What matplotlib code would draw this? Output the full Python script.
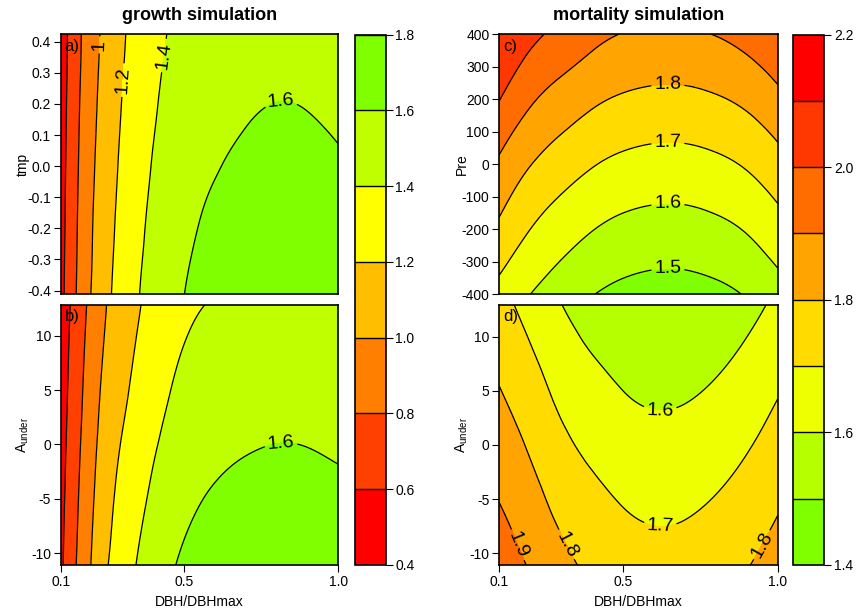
import numpy as np
import matplotlib
matplotlib.use("Agg")
import matplotlib.pyplot as plt
import matplotlib.tri as mtri
from matplotlib.ticker import FormatStrFormatter

plt.rcParams['font.family'] = ['Liberation Sans', 'DejaVu Sans']
plt.rcParams['axes.unicode_minus'] = False
plt.rcParams['mathtext.fontset'] = 'custom'
plt.rcParams['mathtext.rm'] = 'Liberation Sans'

# ---- growth simulation ----
growth_dbh = [0.1, 0.15, 0.2, 0.25, 0.3, 0.4, 0.5, 0.6, 0.7, 0.8, 0.9, 1.0]

growth_tmp = [-0.42, -0.2, 0.0, 0.2, 0.43]
growth_tmp_z = [
    [0.540, 0.800, 1.010, 1.160, 1.290, 1.475, 1.600, 1.670, 1.695, 1.710, 1.705, 1.685],
    [0.528, 0.782, 0.988, 1.134, 1.262, 1.440, 1.565, 1.628, 1.658, 1.672, 1.667, 1.648],
    [0.517, 0.766, 0.967, 1.110, 1.235, 1.410, 1.531, 1.593, 1.622, 1.636, 1.632, 1.613],
    [0.505, 0.749, 0.945, 1.086, 1.207, 1.380, 1.498, 1.558, 1.587, 1.601, 1.596, 1.577],
    [0.492, 0.730, 0.921, 1.058, 1.176, 1.345, 1.459, 1.518, 1.546, 1.560, 1.555, 1.537],
]

growth_aunder = [-11.2, -5.0, 0.0, 5.0, 13.0]
growth_aunder_z = [
    [0.560, 0.800, 1.010, 1.190, 1.310, 1.500, 1.630, 1.700, 1.735, 1.750, 1.745, 1.725],
    [0.538, 0.768, 0.970, 1.142, 1.256, 1.433, 1.553, 1.620, 1.653, 1.668, 1.663, 1.644],
    [0.520, 0.742, 0.937, 1.103, 1.212, 1.379, 1.491, 1.556, 1.588, 1.601, 1.597, 1.578],
    [0.501, 0.716, 0.904, 1.064, 1.167, 1.323, 1.445, 1.505, 1.536, 1.550, 1.545, 1.525],
    [0.473, 0.675, 0.852, 1.002, 1.096, 1.260, 1.360, 1.410, 1.436, 1.445, 1.443, 1.428],
]

# ---- mortality simulation ----
mort_dbh = [0.1, 0.2, 0.3, 0.4, 0.5, 0.6, 0.7, 0.8, 0.9, 1.0]

mort_pre = [-400, -200, 0, 200, 400]
mort_pre_z = [
    [1.664, 1.600, 1.546, 1.503, 1.475, 1.462, 1.462, 1.477, 1.507, 1.560],
    [1.780, 1.700, 1.646, 1.603, 1.575, 1.562, 1.562, 1.577, 1.607, 1.660],
    [1.883, 1.803, 1.749, 1.706, 1.678, 1.665, 1.665, 1.680, 1.710, 1.763],
    [2.003, 1.914, 1.860, 1.817, 1.789, 1.776, 1.776, 1.791, 1.821, 1.874],
    [2.095, 2.025, 1.975, 1.928, 1.897, 1.887, 1.889, 1.903, 1.935, 1.990],
]

mort_aunder = [-11.2, -5.0, 0.0, 5.0, 13.0]
mort_aunder_z = [
    [1.954, 1.892, 1.826, 1.782, 1.750, 1.734, 1.739, 1.761, 1.796, 1.843],
    [1.897, 1.835, 1.769, 1.725, 1.693, 1.677, 1.682, 1.704, 1.739, 1.786],
    [1.850, 1.788, 1.722, 1.678, 1.646, 1.630, 1.635, 1.657, 1.692, 1.739],
    [1.804, 1.742, 1.676, 1.632, 1.600, 1.584, 1.589, 1.611, 1.646, 1.693],
    [1.729, 1.667, 1.601, 1.557, 1.525, 1.509, 1.514, 1.536, 1.571, 1.618],
]

growth_levels = [0.4, 0.6, 0.8, 1.0, 1.2, 1.4, 1.6, 1.8]
growth_colors = ['#FF0000', '#FF4000', '#FF8000', '#FFBF00', '#FFFF00', '#BFFF00', '#80FF00']
mort_levels = [1.4, 1.5, 1.6, 1.7, 1.8, 1.9, 2.0, 2.1, 2.2]
mort_colors = ['#80FF00', '#B6FF00', '#EDFF00', '#FFDB00', '#FFA400', '#FF6D00', '#FF3700', '#FF0000']
mort_ticks = [1.4, 1.6, 1.8, 2.0, 2.2]


def smooth_tri(xs, ys, zs, subdiv=4):
    xs = np.asarray(xs, float)
    ys = np.asarray(ys, float)
    X, Y = np.meshgrid(xs, ys)
    sx, sy = xs.max() - xs.min(), ys.max() - ys.min()
    nx = len(xs)
    tris = []
    for j in range(len(ys) - 1):
        for i in range(nx - 1):
            p = j * nx + i
            tris.append([p, p + 1, p + nx + 1])
            tris.append([p, p + nx + 1, p + nx])
    tri = mtri.Triangulation(((X - xs.min()) / sx).ravel(), ((Y - ys.min()) / sy).ravel(), tris)
    z = np.ravel(zs)
    interp = mtri.CubicTriInterpolator(tri, z)
    tri_f, z_f = mtri.UniformTriRefiner(tri).refine_field(z, triinterpolator=interp, subdiv=subdiv)
    return mtri.Triangulation(tri_f.x * sx + xs.min(), tri_f.y * sy + ys.min(), tri_f.triangles), z_f


def panel(ax, xs, ys, zs, levels, colors, ylim, yticks, yfmt, ylabel, tag, labels_at, bottom):
    tri, z = smooth_tri(xs, ys, zs)
    cf = ax.tricontourf(tri, z, levels=levels, colors=colors)
    cs = ax.tricontour(tri, z, levels=levels, colors='k', linewidths=0.9)
    ax.clabel(cs, fmt=lambda v: f'{v:g}', manual=labels_at, inline=True,
              inline_spacing=3, fontsize=14)
    ax.set_xlim(0.1, 1.0)
    ax.set_ylim(*ylim)
    ax.set_yticks(yticks)
    ax.yaxis.set_major_formatter(FormatStrFormatter(yfmt))
    ax.set_ylabel(ylabel, fontsize=10, va='center')
    ax.yaxis.set_label_coords(-0.135, 0.5)
    ax.tick_params(direction='out', length=5, width=0.8, labelsize=10, pad=2)
    if bottom:
        ax.set_xticks([0.1, 0.5, 1.0])
        ax.xaxis.set_major_formatter(FormatStrFormatter('%.1f'))
        ax.set_xlabel('DBH/DBHmax', fontsize=10, va='center')
        ax.xaxis.set_label_coords(0.5, -0.141)
    else:
        ax.tick_params(axis='x', bottom=False, labelbottom=False)
    for s in ax.spines.values():
        s.set_linewidth(1.2)
    ax.text(0.014, 0.955, tag, transform=ax.transAxes, fontsize=12, va='center', ha='left')
    return cf


W, H = 858, 613
fig = plt.figure(figsize=(W / 100, H / 100), dpi=100)


def box(l, t, r, b):
    return fig.add_axes([l / W, 1 - b / H, (r - l) / W, (b - t) / H])


ax_a = box(60.7, 34.3, 338.3, 294.3)
ax_b = box(60.7, 305, 338.3, 565)
cax_g = box(354.5, 34.5, 385.7, 565)
ax_c = box(499.3, 34.3, 777.7, 294.3)
ax_d = box(499.3, 305, 777.7, 565)
cax_m = box(793.3, 34.5, 824.3, 565)

cf_g = panel(ax_a, growth_dbh, growth_tmp, growth_tmp_z, growth_levels, growth_colors,
             (-0.412, 0.424), [-0.4, -0.3, -0.2, -0.1, 0.0, 0.1, 0.2, 0.3, 0.4], '%.1f',
             'tmp', 'a)', [(0.222, 0.39), (0.30, 0.277), (0.425, 0.357), (0.815, 0.19)], False)
panel(ax_b, growth_dbh, growth_aunder, growth_aunder_z, growth_levels, growth_colors,
      (-11.08, 12.82), [-10, -5, 0, 5, 10], '%d',
      r'$\mathregular{A_{under}}$', 'b)', [(0.815, -0.3)], True)
cf_m = panel(ax_c, mort_dbh, mort_pre, mort_pre_z, mort_levels, mort_colors,
             (-400, 400), [-400, -300, -200, -100, 0, 100, 200, 300, 400], '%d',
             'Pre', 'c)', [(0.645, 246), (0.645, 71), (0.645, -122), (0.645, -320)], False)
panel(ax_d, mort_dbh, mort_aunder, mort_aunder_z, mort_levels, mort_colors,
      (-11.08, 12.92), [-10, -5, 0, 5, 10], '%d',
      r'$\mathregular{A_{under}}$', 'd)',
      [(0.62, 3.4), (0.62, -7.8), (0.296, -9.5), (0.145, -9.4), (0.96, -9.4)], True)

for cf, cax, ticks in [(cf_g, cax_g, growth_levels), (cf_m, cax_m, mort_ticks)]:
    cb = fig.colorbar(cf, cax=cax, ticks=ticks, drawedges=True)
    cb.outline.set_linewidth(1.2)
    cb.dividers.set_linewidth(1.0)
    cb.dividers.set_color('black')
    cb.ax.yaxis.set_major_formatter(FormatStrFormatter('%.1f'))
    cb.ax.tick_params(direction='out', length=5, width=0.8, labelsize=10, pad=2)

fig.text(199.5 / W, 1 - 15 / H, 'growth simulation', ha='center', va='center',
         fontsize=13, fontweight='bold')
fig.text(638.5 / W, 1 - 15 / H, 'mortality simulation', ha='center', va='center',
         fontsize=13, fontweight='bold')

fig.savefig('out.png', dpi=100)
